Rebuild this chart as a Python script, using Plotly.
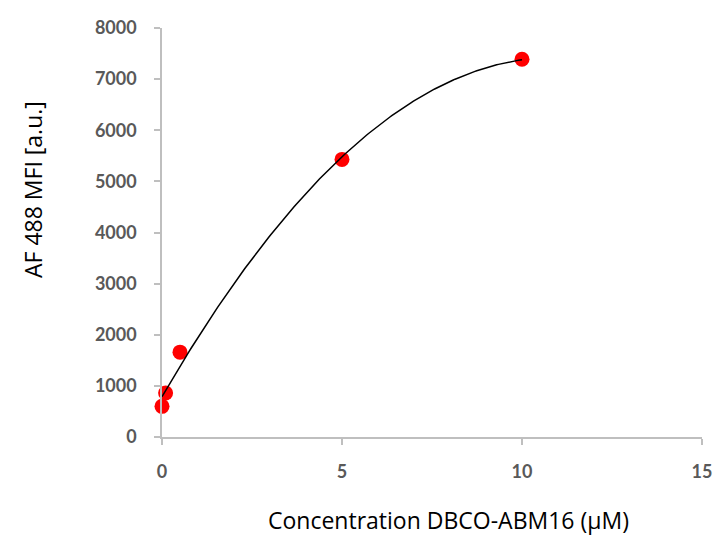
import numpy as np
import plotly.graph_objects as go

conc = [0, 0.1, 0.5, 5, 10]
mfi = [600, 860, 1660, 5430, 7390]
x_ticks = [0, 5, 10, 15]
y_ticks = [0, 1000, 2000, 3000, 4000, 5000, 6000, 7000, 8000]
x_title = "Concentration DBCO-ABM16 (μM)"
y_title = "AF 488 MFI [a.u.]"

# order-2 polynomial trendline fitted to the data (as in the spreadsheet)
coef = np.polyfit(conc, mfi, 2)
xf = np.linspace(min(conc), max(conc), 200)
yf = np.polyval(coef, xf)

fig = go.Figure()
fig.add_trace(go.Scatter(x=conc, y=mfi, mode="markers", cliponaxis=False,
                         marker=dict(color="#ff0000", size=15, line=dict(width=0))))
fig.add_trace(go.Scatter(x=xf, y=yf, mode="lines", cliponaxis=False,
                         line=dict(color="black", width=1.5), hoverinfo="skip"))

axis_common = dict(showgrid=False, zeroline=False, showline=True, linecolor="#bfbfbf",
                   linewidth=1.5, ticks="outside", tickcolor="#bfbfbf", ticklen=6, tickwidth=1.5,
                   automargin=False,
                   tickfont=dict(family="Lato", size=18, color="#595959", weight="bold"))
fig.update_xaxes(range=[0, 15], tickvals=x_ticks, ticklabelstandoff=12, **axis_common)
fig.update_yaxes(range=[0, 8000], tickvals=y_ticks, ticklabelstandoff=14, **axis_common)

title_font = dict(family="Open Sans", size=23, color="black")
fig.add_annotation(text=x_title, xref="paper", yref="paper", x=0.53, y=-0.203,
                   showarrow=False, font=title_font,
                   xanchor="center", yanchor="middle")
fig.add_annotation(text=y_title, xref="paper", yref="paper", x=-0.24, y=0.605,
                   textangle=-90, showarrow=False, font=title_font,
                   xanchor="center", yanchor="middle")

fig.update_layout(width=715, height=536, showlegend=False,
                  plot_bgcolor="white", paper_bgcolor="white",
                  margin=dict(l=162, r=13, t=28, b=99, autoexpand=False))
fig.write_html("out.html")
